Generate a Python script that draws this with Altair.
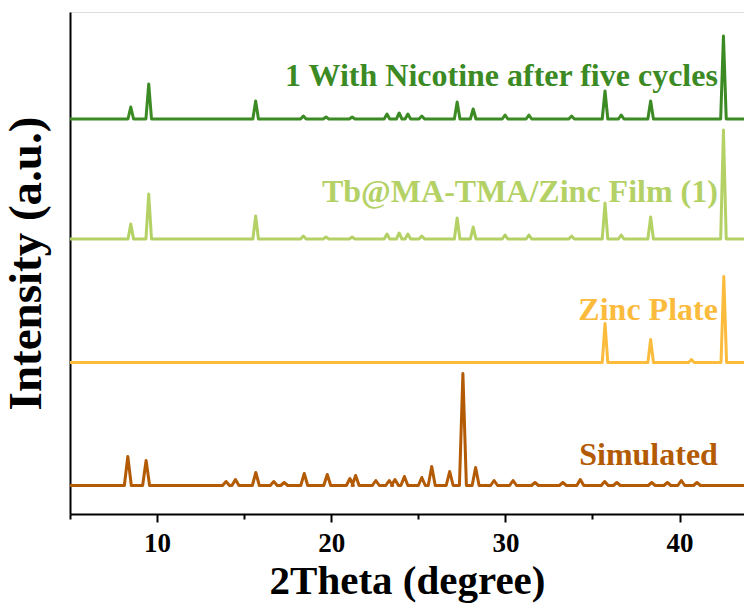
import altair as alt
import pandas as pd

# ---- data ----
series_names = ["1 With Nicotine after five cycles", "Tb@MA-TMA/Zinc Film (1)", "Zinc Plate", "Simulated"]
series_colors = ["#3b8a23", "#b4d166", "#fbbc3e", "#b35a04"]
series_widths = [3, 3, 3, 3.6]
baselines = [395, 275, 151.5, 28.5]          # vertical offset of each pattern (a.u.)

green_pos = [8.49, 9.52, 15.66, 18.4, 19.7, 21.2, 23.2, 23.9, 24.4, 25.2, 27.23, 28.15,
             29.98, 31.35, 33.8, 35.72, 36.65, 38.34, 42.52]
dark_green_h = [12, 35, 18, 3, 2, 2, 5, 6, 5, 3, 17, 10, 4, 4, 3, 28, 4, 18, 83]
light_green_h = [15, 45, 23, 3, 2, 2, 5, 6, 5, 3, 21, 12, 4, 4, 3, 36, 4, 22, 109]

zinc_pos = [35.72, 38.34, 40.68, 42.54]
zinc_h = [39, 23, 3, 86]

sim_pos = [8.32, 9.37, 13.96, 14.5, 15.67, 16.7, 17.3, 18.45, 19.77, 21.07, 21.4, 22.56,
           23.33, 23.66, 24.2, 25.2, 25.77, 26.8, 27.56, 28.29, 29.35, 30.44, 31.7, 33.3,
           34.3, 35.7, 36.4, 38.4, 39.3, 40.1, 41.0]
sim_h = [29, 25, 4, 6, 13, 4, 3, 12, 11, 7, 10, 5, 5, 6, 9, 8, 19, 14, 112, 18, 5, 5,
         3, 3, 6, 4, 3, 3, 3, 5, 3]

x_ticks = [5, 10, 15, 20, 25, 30, 35, 40]
x_domain = [5, 43.7]

peaks = [(green_pos, dark_green_h, 0.16), (green_pos, light_green_h, 0.16),
         (zinc_pos, zinc_h, 0.16), (sim_pos, sim_h, 0.2)]

rows = []
for name, base, (pos, hs, hw) in zip(series_names, baselines, peaks):
    pts = [(x_domain[0], base)]
    for p, h in zip(pos, hs):
        pts += [(p - hw, base), (p, base + h), (p + hw, base)]
    pts.append((x_domain[1], base))
    for i, (xv, yv) in enumerate(pts):
        rows.append({"series": name, "two_theta": xv, "intensity": yv, "i": i})
df = pd.DataFrame(rows)

labels = pd.DataFrame({
    "series": series_names,
    "two_theta": [42.2, 42.2, 42.2, 42.2],
    "intensity": [428, 312, 194, 49],
})

FONT = "Liberation Serif"
color = alt.Color("series:N", scale=alt.Scale(domain=series_names, range=series_colors), legend=None)
width = alt.StrokeWidth("series:N", scale=alt.Scale(domain=series_names, range=series_widths), legend=None)

x_enc = alt.X(
    "two_theta:Q",
    scale=alt.Scale(domain=x_domain, nice=False, zero=False),
    axis=alt.Axis(
        values=x_ticks,
        labelExpr="datum.value % 10 === 0 ? datum.label : ''",
        tickSize={"condition": {"test": "datum.value % 10 === 0", "value": 8}, "value": 5},
        tickWidth=2, tickColor="black", domainColor="black", domainWidth=2,
        labelFont=FONT, labelFontWeight="bold", labelFontSize=27, labelColor="black",
        labelPadding=8, grid=False,
        title="2Theta (degree)", titleFont=FONT, titleFontWeight="bold",
        titleFontSize=41, titleColor="black", titlePadding=5,
    ),
)
y_enc = alt.Y(
    "intensity:Q",
    scale=alt.Scale(domain=[0, 502], nice=False, zero=False),
    axis=alt.Axis(
        ticks=False, labels=False, grid=False, domainColor="black", domainWidth=2,
        title="Intensity (a.u.)", titleFont=FONT, titleFontWeight="bold",
        titleFontSize=47, titleColor="black", titlePadding=20,
    ),
)

lines = alt.Chart(df).mark_line(strokeJoin="round", clip=True).encode(
    x=x_enc, y=y_enc, color=color, strokeWidth=width, order="i:Q", detail="series:N"
)

texts = alt.Chart(labels).mark_text(
    align="right", baseline="alphabetic", font=FONT, fontWeight="bold", fontSize=32
).encode(x="two_theta:Q", y="intensity:Q", text="series:N", color=color)

chart = alt.layer(lines, texts).properties(
    width=674, height=502,
    autosize=alt.AutoSizeParams(type="none"),
    padding={"left": 70, "top": 12, "right": 0, "bottom": 94},
).configure_view(stroke="black", strokeWidth=2).configure(background="white")

chart.save("out.html", embed_options={"renderer": "svg", "actions": False})
